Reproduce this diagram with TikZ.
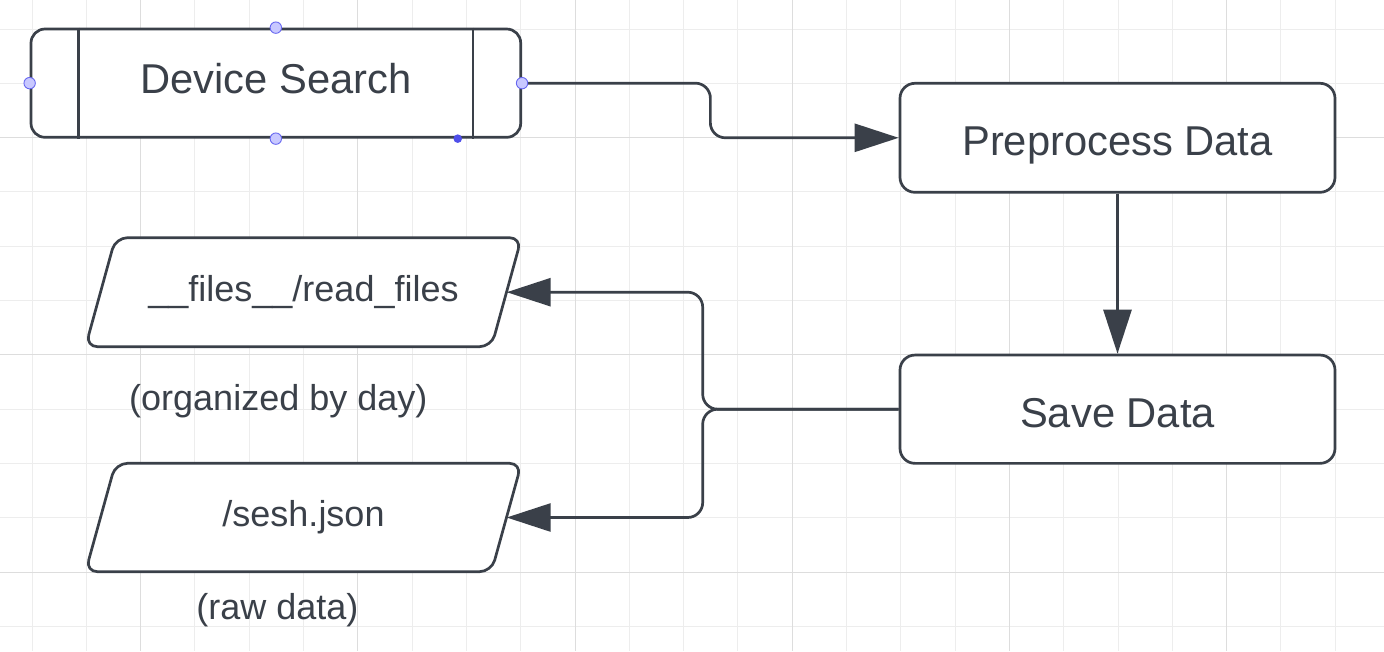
\documentclass[tikz,border=0pt]{standalone}
\usepackage{fontspec}
\setmainfont{Liberation Sans}
\usetikzlibrary{arrows.meta,calc}
\definecolor{ink}{HTML}{3A4049}
\definecolor{gridminor}{HTML}{EDEDED}
\definecolor{gridmajor}{HTML}{DDDDDD}
\definecolor{hfill}{HTML}{C8C8FF}
\definecolor{hdraw}{HTML}{6666F0}
\definecolor{hdot}{HTML}{4F4FEA}
\tikzset{
  box/.style={draw=ink, line width=2.7pt, rounded corners=15pt, fill=white, text=ink,
    font=\fontsize{41.7}{50}\selectfont, inner sep=0pt},
  ptext/.style={draw=none, text=ink, font=\fontsize{36}{43}\selectfont, inner sep=0pt},
  para/.style={draw=ink, fill=white, line width=2.7pt, rounded corners=12pt},
  conn/.style={draw=ink, line width=2.7pt, rounded corners=15pt},
  tip/.style={-{Triangle[length=44pt,width=28pt]}},
  handle/.style={fill=hfill, draw=hdraw, line width=0.9pt},
}
\begin{document}
\begin{tikzpicture}[x=1pt,y=-1pt]
\useasboundingbox (0,0) rectangle (1384,651);
\fill[white] (0,0) rectangle (1384,651);
% grid
\foreach \k in {0,...,24} \draw[gridminor, line width=1pt] ({32+54.3*\k},0) -- ({32+54.3*\k},651);
\foreach \k in {0,...,11} \draw[gridminor, line width=1pt] (0,{29+54.3*\k}) -- (1384,{29+54.3*\k});
\foreach \k in {2,6,...,22} \draw[gridmajor, line width=1pt] ({32+54.3*\k},0) -- ({32+54.3*\k},651);
\foreach \k in {2,6,10} \draw[gridmajor, line width=1pt] (0,{29+54.3*\k}) -- (1384,{29+54.3*\k});

% parallelogram outlines
\draw[para] (115.5,237.7) -- (521.5,237.7) -- (491.5,346.7) -- (85.5,346.7) -- cycle;
\draw[para] (115.5,463.3) -- (521.5,463.3) -- (491.5,571.7) -- (85.5,571.7) -- cycle;

% nodes
\node[box, rounded corners=14pt, minimum width=489.7pt, minimum height=108.3pt,
      text height=29.9pt, text depth=10pt] (ds) at (275.85,83.15) {Device Search};
\draw[ink, line width=2.7pt] ([xshift=49pt]ds.north west) -- ([xshift=49pt]ds.south west);
\draw[ink, line width=2.7pt] ([xshift=-49pt]ds.north east) -- ([xshift=-49pt]ds.south east);

\node[box, minimum width=435pt, minimum height=109pt,
      text height=35.9pt, text depth=0pt] (pp) at (1117.5,137.8) {Preprocess Data};
\node[box, minimum width=435pt, minimum height=108.3pt,
      text height=35.9pt, text depth=0pt] (save) at (1117.5,409.2) {Save Data};

\node[ptext, minimum width=406pt, minimum height=109pt,
      text height=25.8pt, text depth=8pt] (files) at (303.5,292.2) {\_\_files\_\_/read\_files};
\node[ptext, minimum width=406pt, minimum height=108.4pt,
      text height=25.8pt, text depth=8pt] (sesh) at (303.5,517.5) {/sesh.json};

\node[ptext, anchor=base] (org) at (278.3,410.7) {(organized by day)};
\node[ptext, anchor=base] (raw) at (277.5,619) {(raw data)};

% connectors
\draw[conn, tip] (ds.east) -| ($(ds.east)!0.5!(pp.west)$) |- (pp.west);
\draw[conn, tip] (pp.south) -- (save.north);
\coordinate (jx) at (702.7,409.2);
\draw[conn, tip] (save.west) -- (jx) |- (files.east);
\draw[conn, tip] (save.west) -- (jx) |- (sesh.east);

% selection handles
\foreach \a in {north,south,east,west} \filldraw[handle] (ds.\a) circle (5.7pt);
\fill[hdot] ([xshift=181.9pt]ds.south) circle (4.3pt);
\end{tikzpicture}
\end{document}
